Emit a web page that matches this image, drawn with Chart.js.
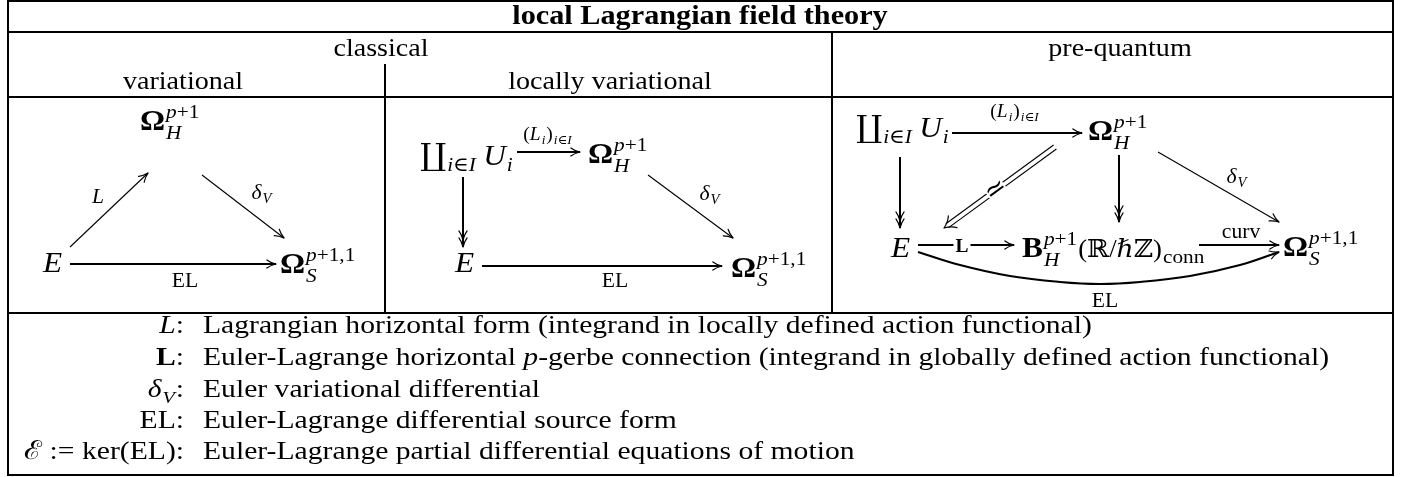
<!DOCTYPE html>
<html>
<head>
<meta charset="utf-8">
<script src="https://cdn.jsdelivr.net/npm/chart.js"></script>
<style>
  body { margin: 0; background: #fff; }
  #wrap { width: 1408px; height: 477px; }
</style>
</head>
<body>
<div id="wrap"><canvas id="diagram" width="1408" height="477"></canvas></div>
<script>
const W = 1408, H = 477;

// table rules [x1, y1, x2, y2]
const tableRules = [
  [8, 1, 1393, 1], [8, 475, 1393, 475], [8, 1, 8, 475], [1393, 1, 1393, 475],
  [8, 32, 1393, 32], [8, 97, 1393, 97], [8, 313, 1393, 313],
  [385, 65, 385, 313], [832, 32, 832, 313]
];

// header cells
const headTexts = ['local Lagrangian field theory', 'classical', 'pre-quantum', 'variational', 'locally variational'];
const headAnchors = [[700, 24], [381, 56], [1120, 56], [183, 89], [610, 89]];

// arrows: path points, kind
const arrowPaths = [
  [[70, 247], [148, 173]],
  [[202, 175], [284, 238]],
  [[70, 264], [276, 264]],
  [[517, 152], [580, 152]],
  [[463, 177], [463, 247]],
  [[648, 175], [733, 238]],
  [[482, 266], [722, 266]],
  [[952, 133], [1082, 133]],
  [[900, 157], [900, 228]],
  [[1119, 155], [1119, 222]],
  [[1158, 152], [1279, 222]],
  [[918, 245], [1014, 245]],
  [[1199, 245], [1279, 245]],
  [[918, 252], [960, 265], [1010, 276], [1060, 282], [1100, 284], [1140, 282], [1190, 276], [1240, 265], [1279, 252]],
  [[1055, 147], [944, 228]]
];
const arrowKinds = ['thin', 'thin', 'thick', 'thick', 'epi', 'thin', 'thick',
                    'thick', 'epi', 'epi', 'thin', 'thick', 'thick', 'curve', 'dbl'];

// text pieces
const r = t => [t, ''], it = t => [t, 'i'], bf = t => [t, 'b'];
const OMH = [bf('Ω'), { sup: [it('p'), r('+1')], sub: [it('H')] }];
const OMS = [bf('Ω'), { sup: [it('p'), r('+1,1')], sub: [it('S')] }];
const EE = [it('E')];
const COPROD = [['∐', '', 1.05], { sub: [it('i'), r('∈'), it('I')] }, r('\u2009'), it('U'), { sub: [it('i')] }];
const BCONN = [bf('B'), { sup: [it('p'), r('+1')], sub: [it('H')] }, ['(ℝ/ℏℤ)', '', 0.85], { sub: [r('conn')] }];
const LI = [r('('), it('L'), { sub: [it('i')] }, r(')'), { sub: [it('i'), r('∈'), it('I')] }];
const DV = [it('δ'), { sub: [it('V')] }];

const nodeLabels = [OMH, EE, OMS, COPROD, OMH, EE, OMS, COPROD, OMH, EE, BCONN, OMS];
const nodeAnchors = [[140, 130], [43, 272], [280, 273], [420, 165], [588, 163], [455, 272], [731, 277],
                     [856, 137], [1088, 140], [891, 257], [1022, 257], [1283, 256]];

const arrowLabels = [[it('L')], DV, [r('EL')], LI, DV, [r('EL')], LI, DV, [r('curv')], [r('EL')]];
const arrowLabelAnchors = [[98, 203], [262, 199], [185, 287], [548, 140], [710, 200], [615, 287],
                           [1015, 117], [1237, 183], [1241, 238], [1105, 307]];

const legendKeys = [
  [it('L'), r(':')],
  [bf('L'), r(':')],
  [it('δ'), { sub: [it('V')] }, r(':')],
  [r('EL:')],
  [r('ℰ'), r(' := ker(EL):')]
];
const legendTexts = [
  [r('Lagrangian horizontal form (integrand in locally defined action functional)')],
  [r('Euler-Lagrange horizontal '), it('p'), r('-gerbe connection (integrand in globally defined action functional)')],
  [r('Euler variational differential')],
  [r('Euler-Lagrange differential source form')],
  [r('Euler-Lagrange partial differential equations of motion')]
];
const legendRows = [333, 365, 397, 428, 459];

// ---- drawing helpers
const FAM = '"Liberation Serif", "DejaVu Serif", serif';
let SX = 1.08;
const font = (st, px) => (st.includes('i') ? 'italic ' : '') + (st.includes('b') ? 'bold ' : '') + px + 'px ' + FAM;

function pieceW(c, p, px) {
  if (Array.isArray(p)) {
    c.font = font(p[1], px * (p[2] || 1));
    return c.measureText(p[0]).width * SX;
  }
  const sp = px * 0.68;
  const a = p.sup ? seqW(c, p.sup, sp) : 0, b = p.sub ? seqW(c, p.sub, sp) : 0;
  return Math.max(a, b) + 2;
}
function seqW(c, seq, px) { return seq.reduce((s, p) => s + pieceW(c, p, px), 0); }
function drawSeq(c, seq, px, x, y) {
  for (const p of seq) {
    if (Array.isArray(p)) {
      c.font = font(p[1], px * (p[2] || 1));
      c.save(); c.translate(x, y); c.scale(SX, 1); c.fillText(p[0], 0, 0); c.restore();
    } else {
      const sp = px * 0.68;
      if (p.sup) drawSeq(c, p.sup, sp, x + 1, y - px * 0.42);
      if (p.sub) drawSeq(c, p.sub, sp, x + 1, y + px * (p.sup ? 0.3 : 0.22));
    }
    x += pieceW(c, p, px);
  }
}
function label(c, seq, px, x, y, align, bg) {
  const w = seqW(c, seq, px);
  const x0 = align === 'c' ? x - w / 2 : align === 'r' ? x - w : x;
  if (bg) { c.fillStyle = '#fff'; c.fillRect(x0 - 2, y - px * 0.75, w + 4, px * 0.85); c.fillStyle = '#000'; }
  drawSeq(c, seq, px, x0, y);
}

const styles = {
  rule:  { width: 2 },
  thin:  { width: 1.1, heads: 1 },
  thick: { width: 2, heads: 1 },
  epi:   { width: 2, heads: 2 },
  curve: { width: 2, heads: 1, tension: 0.4 },
  dbl:   { width: 1.1, heads: 1, gap: 2.4 }
};

// ---- datasets
const datasets = [];
tableRules.forEach(([x1, y1, x2, y2]) => datasets.push({
  data: [{ x: x1, y: y1 }, { x: x2, y: y2 }], showLine: true, borderColor: '#000',
  borderWidth: styles.rule.width, borderCapStyle: 'square', pointRadius: 0
}));
arrowPaths.forEach((pts, i) => {
  const st = styles[arrowKinds[i]];
  if (st.gap) {
    const [a, b] = pts;
    const dx = b[0] - a[0], dy = b[1] - a[1], L = Math.hypot(dx, dy);
    const nx = -dy / L * st.gap, ny = dx / L * st.gap;
    const ex = b[0] - dx / L * 4, ey = b[1] - dy / L * 4;
    for (const s of [-1, 1]) datasets.push({
      data: [{ x: a[0] + s * nx, y: a[1] + s * ny }, { x: ex + s * nx, y: ey + s * ny }],
      showLine: true, borderColor: '#000', borderWidth: st.width, pointRadius: 0
    });
  } else {
    datasets.push({
      data: pts.map(p => ({ x: p[0], y: p[1] })), showLine: true, borderColor: '#000',
      borderWidth: st.width, pointRadius: 0, tension: st.tension || 0
    });
  }
});

function barb(c, tx, ty, ang, len, spread, lw) {
  c.save(); c.lineWidth = lw; c.lineCap = 'round'; c.strokeStyle = '#000';
  c.beginPath();
  for (const s of [-1, 1]) {
    const bx = tx - len * Math.cos(ang + s * spread), by = ty - len * Math.sin(ang + s * spread);
    const mx = tx - len * 0.55 * Math.cos(ang + s * spread * 0.55), my = ty - len * 0.55 * Math.sin(ang + s * spread * 0.55);
    c.moveTo(tx, ty); c.quadraticCurveTo(mx, my, bx, by);
  }
  c.stroke(); c.restore();
}

const arrowHeads = {
  id: 'arrowHeads',
  afterDatasetsDraw(chart) {
    const c = chart.ctx, sx = chart.scales.x, sy = chart.scales.y;
    arrowPaths.forEach((pts, i) => {
      const st = styles[arrowKinds[i]];
      const b = pts[pts.length - 1], a = pts[pts.length - 2];
      const tx = sx.getPixelForValue(b[0]), ty = sy.getPixelForValue(b[1]);
      const ang = Math.atan2(ty - sy.getPixelForValue(a[1]), tx - sx.getPixelForValue(a[0]));
      if (st.gap) { barb(c, tx, ty, ang, 13, 0.6, 1.2); return; }
      barb(c, tx, ty, ang, 10, 0.42, 1.2);
      if (st.heads === 2) barb(c, tx - 7 * Math.cos(ang), ty - 7 * Math.sin(ang), ang, 10, 0.42, 1.2);
    });
  }
};

const texts = {
  id: 'texts',
  afterDraw(chart) {
    const c = chart.ctx, sx = chart.scales.x, sy = chart.scales.y;
    const P = (p) => [sx.getPixelForValue(p[0]), sy.getPixelForValue(p[1])];
    c.save();
    c.fillStyle = '#000';
    c.textBaseline = 'alphabetic';
    SX = 1.08;
    headTexts.forEach((t, i) => {
      const [x, y] = P(headAnchors[i]);
      label(c, [[t, i === 0 ? 'b' : '']], i === 0 ? 28 : 26, x, y, 'c');
    });
    nodeLabels.forEach((seq, i) => { const [x, y] = P(nodeAnchors[i]); label(c, seq, 29, x, y, 'l'); });
    arrowLabels.forEach((seq, i) => {
      const [x, y] = P(arrowLabelAnchors[i]);
      label(c, seq, seq === LI ? 18 : 20, x, y, 'c');
    });
    // bold L sitting on the E -> B arrow
    { const [x, y] = P([962, 252]); label(c, [bf('L')], 18, x, y, 'c', true); }
    // iso mark on the double arrow
    {
      const [x, y] = P([996, 190]);
      c.save(); c.translate(x, y); c.rotate(Math.atan2(147 - 228, 1055 - 944));
      c.fillStyle = '#fff'; c.fillRect(-10, -10, 20, 15); c.fillStyle = '#000';
      c.font = '26px ' + FAM; c.textAlign = 'center'; c.fillText('≃', 0, 7);
      c.restore();
    }
    SX = 1.14;
    legendRows.forEach((yy, i) => {
      const [xk, y] = P([184, yy]);
      label(c, legendKeys[i], 26, xk, y, 'r');
      const [xt] = P([203, yy]);
      label(c, legendTexts[i], 26, xt, y, 'l');
    });
    c.restore();
  }
};

new Chart(document.getElementById('diagram'), {
  type: 'scatter',
  data: { datasets },
  options: {
    responsive: false,
    animation: false,
    events: [],
    layout: { padding: 0 },
    plugins: { legend: { display: false }, tooltip: { enabled: false } },
    scales: {
      x: { type: 'linear', min: 0, max: W, display: false },
      y: { type: 'linear', min: 0, max: H, reverse: true, display: false }
    }
  },
  plugins: [arrowHeads, texts]
});
</script>
</body>
</html>
